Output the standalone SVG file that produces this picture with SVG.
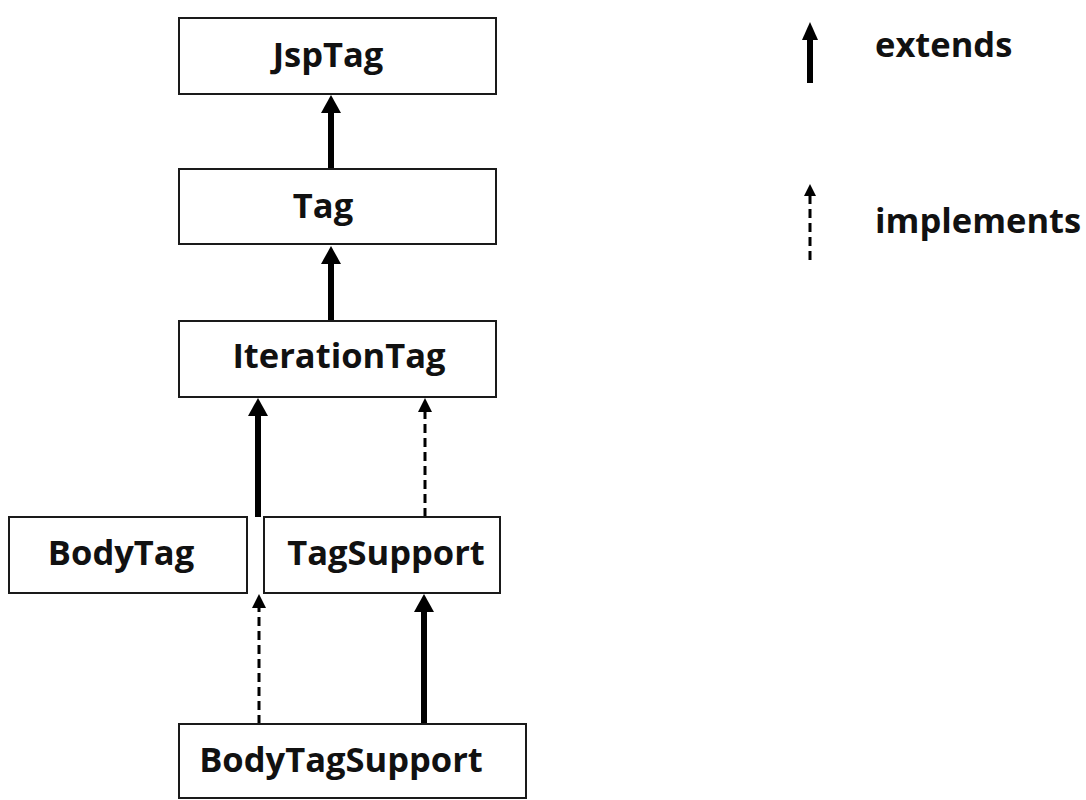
<svg xmlns="http://www.w3.org/2000/svg" width="1086" height="800" viewBox="0 0 1086 800">
<style>
.box{fill:#fff;stroke:#1a1a1a;stroke-width:2}
.lbl{font-family:"Open Sans","Liberation Sans",sans-serif;font-weight:bold;font-size:34.5px;fill:#111;text-anchor:middle}
.leg{font-family:"Open Sans","Liberation Sans",sans-serif;font-weight:bold;font-size:34.5px;fill:#111}
.ext{stroke:#000;stroke-width:6;fill:none}
.imp{stroke:#000;stroke-width:3;stroke-dasharray:9 5;fill:none}
</style>
<rect width="1086" height="800" fill="#fff"/>
<g id="connectors">
<path class="ext" d="M331,169 V110"/><path d="M321,113 L331,95 L341,113 Z"/>
<path class="ext" d="M331,321 V262"/><path d="M321,264 L331,246 L341,264 Z"/>
<path class="ext" d="M258,517 V414"/><path d="M248,416 L258,398 L268,416 Z"/>
<path class="imp" d="M425,517 V410"/><path d="M418,412 L425,398 L432,412 Z"/>
<path class="imp" d="M259,724 V606"/><path d="M252,608 L259,594 L266,608 Z"/>
<path class="ext" d="M424,724 V610"/><path d="M414,612 L424,594 L434,612 Z"/>
</g>
<g id="legend">
<path class="ext" d="M810,83 V38"/><path d="M802,40 L810,22 L818,40 Z"/>
<text class="leg" x="875" y="57">extends</text>
<path class="imp" d="M810,260 V194"/><path d="M804,196 L810,184 L816,196 Z"/>
<text class="leg" x="875" y="233">implements</text>
</g>
<g id="JspTag"><rect class="box" x="179" y="18" width="317" height="76"/><text class="lbl" x="328" y="67">JspTag</text></g>
<g id="Tag"><rect class="box" x="179" y="169" width="317" height="75"/><text class="lbl" x="323" y="218">Tag</text></g>
<g id="IterationTag"><rect class="box" x="179" y="321" width="317" height="76"/><text class="lbl" x="339" y="368">IterationTag</text></g>
<g id="BodyTag"><rect class="box" x="9" y="517" width="238" height="76"/><text class="lbl" x="121" y="565">BodyTag</text></g>
<g id="TagSupport"><rect class="box" x="264" y="517" width="236" height="76"/><text class="lbl" x="386" y="565">TagSupport</text></g>
<g id="BodyTagSupport"><rect class="box" x="179" y="724" width="347" height="74"/><text class="lbl" x="341" y="772">BodyTagSupport</text></g>
</svg>
